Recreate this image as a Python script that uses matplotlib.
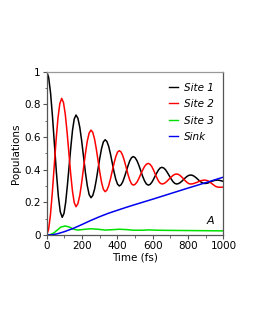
import numpy as np
import matplotlib
matplotlib.use('Agg')
import matplotlib.pyplot as plt
from matplotlib.ticker import MultipleLocator, FuncFormatter

# values (time in fs, population)
t_site1 = [0, 11, 22, 33, 44, 55, 66, 77, 88,
           98, 107.5, 117, 127, 137, 146.5, 156, 166,
           176.6, 187.3, 197.9, 208.5, 219.1, 229.8, 240.4, 251,
           261, 271, 281, 291, 301, 311, 321, 331,
           341, 351, 361, 371, 381, 391, 401, 411,
           420.9, 430.8, 440.6, 450.5, 460.4, 470.3, 480.1, 490,
           500.6, 511.3, 521.9, 532.5, 543.1, 553.8, 564.4, 575,
           584.6, 594.3, 603.9, 613.5, 623.1, 632.8, 642.4, 652,
           662.4, 672.8, 683.1, 693.5, 703.9, 714.3, 724.6, 735,
           745, 755, 765, 775, 785, 795, 805, 815,
           825, 835, 845, 855, 865, 875, 885, 895,
           903.8, 912.5, 921.3, 930, 938.8, 947.5, 956.3, 965,
           975, 990, 1000]
p_site1 = [1.0, 0.966, 0.870, 0.724, 0.554, 0.384, 0.238, 0.142, 0.108,
           0.132, 0.199, 0.301, 0.421, 0.541, 0.643, 0.710, 0.734,
           0.715, 0.660, 0.578, 0.481, 0.384, 0.302, 0.247, 0.228,
           0.242, 0.280, 0.338, 0.406, 0.473, 0.531, 0.570, 0.583,
           0.572, 0.542, 0.496, 0.442, 0.387, 0.341, 0.311, 0.300,
           0.307, 0.326, 0.356, 0.390, 0.424, 0.454, 0.473, 0.480,
           0.473, 0.454, 0.426, 0.393, 0.359, 0.331, 0.312, 0.305,
           0.309, 0.321, 0.339, 0.360, 0.380, 0.398, 0.410, 0.414,
           0.410, 0.399, 0.382, 0.363, 0.344, 0.327, 0.316, 0.312,
           0.314, 0.320, 0.329, 0.340, 0.350, 0.359, 0.365, 0.367,
           0.365, 0.359, 0.351, 0.341, 0.331, 0.323, 0.317, 0.315,
           0.316, 0.318, 0.322, 0.326, 0.330, 0.333, 0.335, 0.336,
           0.335, 0.331, 0.328]

t_site2 = [0, 10.6, 21.3, 31.9, 42.5, 53.1, 63.8, 74.4, 85,
           95.1, 105.3, 115.4, 125.5, 135.6, 145.8, 155.9, 166,
           176.6, 187.3, 197.9, 208.5, 219.1, 229.8, 240.4, 251,
           261, 271, 281, 291, 301, 311, 321, 331,
           341, 351, 361, 371, 381, 391, 401, 411,
           420.9, 430.8, 440.6, 450.5, 460.4, 470.3, 480.1, 490,
           500.6, 511.3, 521.9, 532.5, 543.1, 553.8, 564.4, 575,
           584.6, 594.3, 603.9, 613.5, 623.1, 632.8, 642.4, 652,
           662.4, 672.8, 683.1, 693.5, 703.9, 714.3, 724.6, 735,
           745, 755, 765, 775, 785, 795, 805, 815,
           825, 835, 845, 855, 865, 875, 885, 895,
           905, 915, 925, 935, 945, 955, 965, 975,
           990, 1000]
p_site2 = [0.0, 0.032, 0.122, 0.258, 0.418, 0.578, 0.714, 0.804, 0.836,
           0.811, 0.739, 0.631, 0.505, 0.378, 0.270, 0.198, 0.173,
           0.191, 0.241, 0.318, 0.408, 0.497, 0.574, 0.624, 0.642,
           0.628, 0.587, 0.526, 0.454, 0.382, 0.320, 0.279, 0.265,
           0.275, 0.302, 0.343, 0.391, 0.438, 0.479, 0.507, 0.516,
           0.508, 0.485, 0.451, 0.411, 0.370, 0.336, 0.313, 0.305,
           0.310, 0.324, 0.346, 0.372, 0.397, 0.419, 0.433, 0.438,
           0.433, 0.420, 0.399, 0.375, 0.351, 0.330, 0.317, 0.312,
           0.314, 0.321, 0.331, 0.343, 0.354, 0.364, 0.371, 0.373,
           0.371, 0.364, 0.354, 0.343, 0.331, 0.321, 0.314, 0.312,
           0.313, 0.316, 0.320, 0.324, 0.329, 0.333, 0.335, 0.336,
           0.334, 0.330, 0.322, 0.314, 0.306, 0.298, 0.294, 0.292,
           0.292, 0.294]

t_site3 = [0, 20, 40, 60, 80, 105, 130, 150, 175, 210, 250, 290, 330, 370,
           410, 450, 490, 540, 580, 620, 700, 800, 900, 1000]
p_site3 = [0.0, 0.002, 0.012, 0.030, 0.048, 0.055, 0.048, 0.036, 0.030,
           0.034, 0.038, 0.035, 0.030, 0.032, 0.035, 0.033, 0.029, 0.029,
           0.031, 0.029, 0.028, 0.027, 0.026, 0.025]

t_sink = [0, 30, 60, 100, 150, 200, 250, 300, 350, 400, 450, 500, 600, 700,
          800, 900, 1000]
p_sink = [0.0, 0.001, 0.007, 0.020, 0.040, 0.064, 0.089, 0.112, 0.133,
          0.151, 0.169, 0.186, 0.219, 0.253, 0.287, 0.320, 0.354]

labels = ['Site 1', 'Site 2', 'Site 3', 'Sink']
colors = ['black', '#ff0000', '#00e000', '#0000ee']

plt.rcParams['font.family'] = 'DejaVu Sans'
fig = plt.figure(figsize=(2.55, 3.3), dpi=100)
ax = fig.add_axes([0.183, 0.288, 0.693, 0.495])

series = [(t_site1, p_site1), (t_site2, p_site2), (t_site3, p_site3), (t_sink, p_sink)]
for (t, p), lab, c in zip(series, labels, colors):
    ax.plot(t, p, color=c, lw=1.1, label=lab)

ax.set_xlim(0, 1000)
ax.set_ylim(0, 1)
ax.xaxis.set_major_locator(MultipleLocator(200))
ax.xaxis.set_minor_locator(MultipleLocator(100))
ax.yaxis.set_major_locator(MultipleLocator(0.2))
ax.yaxis.set_minor_locator(MultipleLocator(0.1))
ax.yaxis.set_major_formatter(FuncFormatter(lambda v, pos: '%g' % round(v, 1)))
ax.tick_params(which='major', direction='out', length=3, width=0.8,
               labelsize=7.5, pad=1.5, color='#555555')
ax.tick_params(which='minor', direction='out', length=1.8, width=0.6, color='#555555')
ax.tick_params(top=False, right=False)
for s in ax.spines.values():
    s.set_color('#555555')
    s.set_linewidth(0.9)
ax.spines['top'].set_color('#999999')

ax.set_xlabel('Time (fs)', fontsize=7.5, labelpad=1)
ax.set_ylabel('Populations', fontsize=7.5, labelpad=2)

leg = ax.legend(loc='upper right', bbox_to_anchor=(1.0, 0.99), frameon=False,
                handlelength=0.9, handletextpad=0.6, labelspacing=0.62,
                prop={'style': 'italic', 'size': 7.5})
for h in leg.get_lines():
    h.set_linewidth(1.0)

ax.text(925, 0.085, 'A', fontsize=8, style='italic', ha='center', va='center')

fig.savefig('out.png', dpi=100)
